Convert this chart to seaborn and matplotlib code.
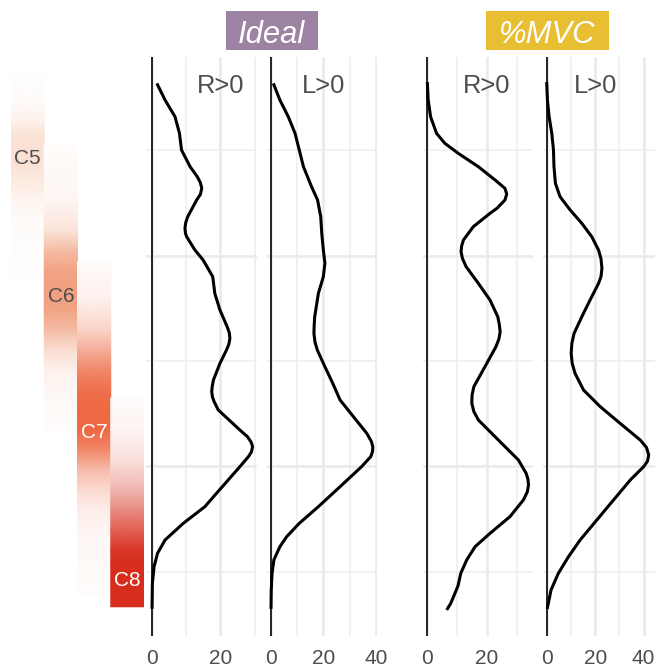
import numpy as np
import pandas as pd
import matplotlib
matplotlib.use("Agg")
import matplotlib.pyplot as plt
import seaborn as sns
from matplotlib.colors import LinearSegmentedColormap
from matplotlib.patches import Rectangle

# ---- density curves: position along the cord (top -> bottom) and density ----
ideal_r_pos = [0.368, 0.526, 0.684, 0.842, 1.000, 1.158, 1.253, 1.310, 1.363, 1.420,
               1.474, 1.632, 1.690, 1.742, 1.790, 1.822, 1.948, 2.043, 2.201, 2.359,
               2.517, 2.675, 2.730, 2.785, 2.840, 2.896, 3.022, 3.180, 3.240, 3.291,
               3.340, 3.385, 3.464, 3.654, 3.717, 3.770, 3.812, 3.860, 3.907, 4.002,
               4.128, 4.254, 4.381, 4.539, 4.697, 4.823, 4.949, 5.107, 5.350]
ideal_r_val = [1.5, 3.9, 6.8, 8.1, 8.7, 11.2, 13.3, 14.2, 14.6, 14.2,
               13.1, 10.5, 9.9, 9.7, 9.85, 10.2, 12.6, 15.0, 17.8, 18.4,
               19.9, 22.0, 22.6, 22.8, 22.5, 21.8, 19.9, 18.0, 17.65, 17.5,
               17.7, 18.2, 19.4, 25.7, 27.9, 29.0, 29.4, 29.1, 28.2, 25.7,
               22.3, 18.9, 15.5, 9.2, 3.9, 1.7, 0.7, 0.2, 0.1]

ideal_l_pos = [0.368, 0.526, 0.684, 0.842, 1.000, 1.158, 1.348, 1.474, 1.632, 1.790,
               1.948, 2.074, 2.201, 2.359, 2.580, 2.660, 2.738, 2.820, 2.896, 3.054,
               3.212, 3.370, 3.528, 3.686, 3.760, 3.812, 3.860, 3.907, 4.002, 4.191,
               4.381, 4.539, 4.665, 4.760, 4.886, 5.013, 5.170, 5.350]
ideal_l_val = [0.9, 3.4, 6.6, 9.2, 10.8, 12.4, 15.5, 17.8, 19.0, 19.4,
               20.0, 20.6, 20.0, 18.1, 16.7, 16.5, 16.4, 16.8, 17.7, 20.6,
               23.6, 26.4, 31.5, 36.6, 38.3, 38.9, 38.8, 38.1, 34.6, 26.4,
               18.1, 10.8, 6.0, 3.4, 1.1, 0.4, 0.1, 0.0]

mvc_r_pos = [0.355, 0.526, 0.684, 0.842, 0.937, 1.032, 1.158, 1.284, 1.363, 1.417,
             1.474, 1.553, 1.600, 1.727, 1.853, 1.910, 1.964, 2.030, 2.106, 2.264,
             2.422, 2.580, 2.650, 2.722, 2.790, 2.864, 3.054, 3.243, 3.320, 3.401,
             3.480, 3.559, 3.749, 3.938, 4.065, 4.120, 4.175, 4.240, 4.317, 4.475,
             4.634, 4.760, 4.886, 5.013, 5.130, 5.220, 5.300, 5.360]
mvc_r_val = [0.0, 0.3, 1.1, 3.1, 5.9, 10.4, 17.1, 22.7, 26.0, 26.6,
             26.0, 23.3, 21.0, 15.4, 12.1, 11.5, 11.3, 11.8, 13.0, 17.1,
             21.0, 23.6, 24.1, 24.4, 24.0, 23.0, 19.3, 15.6, 15.0, 14.9,
             15.6, 17.1, 23.8, 30.5, 33.1, 33.7, 33.9, 33.5, 32.2, 27.7,
             21.0, 16.0, 13.2, 11.2, 10.3, 9.0, 7.8, 6.5]

mvc_l_pos = [0.355, 0.526, 0.684, 0.842, 1.000, 1.158, 1.316, 1.442, 1.569, 1.695,
             1.822, 1.948, 2.030, 2.122, 2.200, 2.264, 2.422, 2.580, 2.738, 2.830,
             2.927, 3.020, 3.117, 3.275, 3.433, 3.591, 3.749, 3.820, 3.891, 3.950,
             4.002, 4.128, 4.317, 4.507, 4.697, 4.855, 5.013, 5.170, 5.350]
mvc_l_val = [0.0, 0.3, 1.0, 2.1, 2.8, 3.0, 3.6, 5.5, 9.7, 14.5,
             18.6, 21.4, 22.4, 22.8, 22.4, 21.4, 17.9, 14.5, 11.3, 10.4,
             10.1, 10.5, 11.7, 15.2, 22.1, 30.3, 38.6, 41.2, 42.1, 41.6,
             40.0, 34.5, 27.6, 20.7, 13.8, 9.0, 4.8, 1.8, 0.2]

# ---- segment bands on the left: position and relative intensity ----
segments = ["C5", "C6", "C7", "C8"]
seg_colors = ["#fae0d2", "#f0a07f", "#ee6843", "#d72d1c"]
seg_text_colors = ["#4d4d4d", "#4d4d4d", "white", "white"]
seg_label_pos = [1.076, 2.384, 3.682, 5.085]
c5_pos = [0.27, 0.53, 0.72, 0.86, 1.00, 1.14, 1.28, 1.47, 1.66, 1.90, 2.23]
c5_int = [0.04, 0.12, 0.45, 0.90, 1.00, 0.95, 0.70, 0.35, 0.15, 0.06, 0.02]
c6_pos = [0.95, 1.47, 1.76, 1.95, 2.14, 2.33, 2.52, 2.71, 2.90, 3.09, 3.37, 3.67]
c6_int = [0.03, 0.10, 0.30, 0.70, 0.95, 1.00, 0.95, 0.70, 0.35, 0.15, 0.06, 0.02]
c7_pos = [2.06, 2.42, 2.71, 2.90, 3.09, 3.28, 3.46, 3.65, 3.84, 4.03, 4.22, 4.41, 4.70, 5.21]
c7_int = [0.02, 0.10, 0.30, 0.55, 0.80, 0.95, 1.00, 1.00, 0.80, 0.45, 0.25, 0.12, 0.05, 0.02]
c8_pos = [3.35, 3.65, 3.94, 4.22, 4.41, 4.60, 4.79, 4.93, 5.33]
c8_int = [0.02, 0.06, 0.15, 0.35, 0.55, 0.75, 0.95, 1.00, 1.00]
seg_profiles = [(c5_pos, c5_int), (c6_pos, c6_int), (c7_pos, c7_int), (c8_pos, c8_int)]

conditions = ["Ideal", "%MVC"]
cond_colors = ["#9c83a3", "#e8be33"]
sides = ["R>0", "L>0"]

curves = {
    ("Ideal", "R>0"): (ideal_r_pos, ideal_r_val),
    ("Ideal", "L>0"): (ideal_l_pos, ideal_l_val),
    ("%MVC", "R>0"): (mvc_r_pos, mvc_r_val),
    ("%MVC", "L>0"): (mvc_l_pos, mvc_l_val),
}
frames = []
for (cond, side), (pos, val) in curves.items():
    frames.append(pd.DataFrame({"condition": cond, "side": side,
                                "position": pos, "density": val}))
df = pd.concat(frames, ignore_index=True)

sns.set_theme(style="white")
plt.rcParams["font.family"] = ["Liberation Sans", "DejaVu Sans"]

W, H = 656, 669
fig = plt.figure(figsize=(W / 100, H / 100), dpi=100)
YLIM = (5.607, 0.118)


def px_axes(x0, x1, y0=57, y1=636):
    return fig.add_axes([x0 / W, 1 - y1 / H, (x1 - x0) / W, (y1 - y0) / H])


# left: segment gradient bands
ax0 = px_axes(11, 144)
for i, ((pos, inten), col) in enumerate(zip(seg_profiles, seg_colors)):
    cmap = LinearSegmentedColormap.from_list(segments[i], ["white", col])
    n = len(pos)
    X = np.array([[i - 0.5, i + 0.5]] * n)
    Y = np.column_stack([pos, pos])
    C = np.column_stack([inten, inten])
    ax0.pcolormesh(X, Y, C, cmap=cmap, vmin=0, vmax=1, shading="gouraud")
    ax0.text(i, seg_label_pos[i], segments[i], ha="center", va="center",
             fontsize=15, color=seg_text_colors[i])
ax0.set_xlim(-0.5, 3.5)
ax0.set_ylim(*YLIM)
ax0.set_axis_off()

# density panels
panels = [
    ("Ideal", "R>0", 146, 257, (-1.66, 30.7), [0, 20], [10, 30]),
    ("Ideal", "L>0", 266.7, 377, (-1.64, 40.5), [0, 20, 40], [10, 30]),
    ("%MVC", "R>0", 422.7, 533.3, (-1.54, 35.5), [0, 20], [10, 30]),
    ("%MVC", "L>0", 542.7, 655, (-1.65, 44.7), [0, 20, 40], [10, 30]),
]
for cond, side, x0, x1, xlim, majors, minors in panels:
    ax = px_axes(x0, x1)
    sub = df[(df["condition"] == cond) & (df["side"] == side)]
    ax.set_axisbelow(True)
    ax.set_xticks(majors)
    ax.set_xticks(minors, minor=True)
    ax.set_yticks([2, 4])
    ax.set_yticks([1, 3, 5], minor=True)
    ax.grid(which="major", color="#ebebeb", linewidth=2.0)
    ax.grid(which="minor", color="#ededed", linewidth=1.1)
    ax.axvline(0, color="black", linewidth=1.2, zorder=2)
    sns.lineplot(data=sub, x="density", y="position", orient="y",
                 estimator=None, color="black", linewidth=2.2, ax=ax, zorder=3,
                 solid_joinstyle="round", solid_capstyle="butt")
    ax.text(20, 0.457, side, ha="center", va="baseline", fontsize=18.4,
            color="#4d4d4d")
    ax.set_xlim(*xlim)
    ax.set_ylim(*YLIM)
    ax.set_xlabel("")
    ax.set_ylabel("")
    for s in ax.spines.values():
        s.set_visible(False)
    ax.tick_params(axis="x", which="both", length=0, pad=9, labelsize=15,
                   labelcolor="#4d4d4d")
    ax.tick_params(axis="y", which="both", length=0, left=False, labelleft=False)

# condition headers
headers = [("Ideal", 226, 317.7, 42.7), ("%MVC", 486, 609, 43.0)]
for (name, bx0, bx1, base), col in zip(headers, cond_colors):
    fig.add_artist(Rectangle((bx0 / W, 1 - 50 / H), (bx1 - bx0) / W, 39 / H,
                             transform=fig.transFigure, facecolor=col,
                             edgecolor="none"))
    fig.text((bx0 + bx1) / 2 / W, 1 - base / H, name, ha="center", va="baseline",
             fontsize=22.3, style="italic", color="white")

fig.savefig("out.png", dpi=100)
